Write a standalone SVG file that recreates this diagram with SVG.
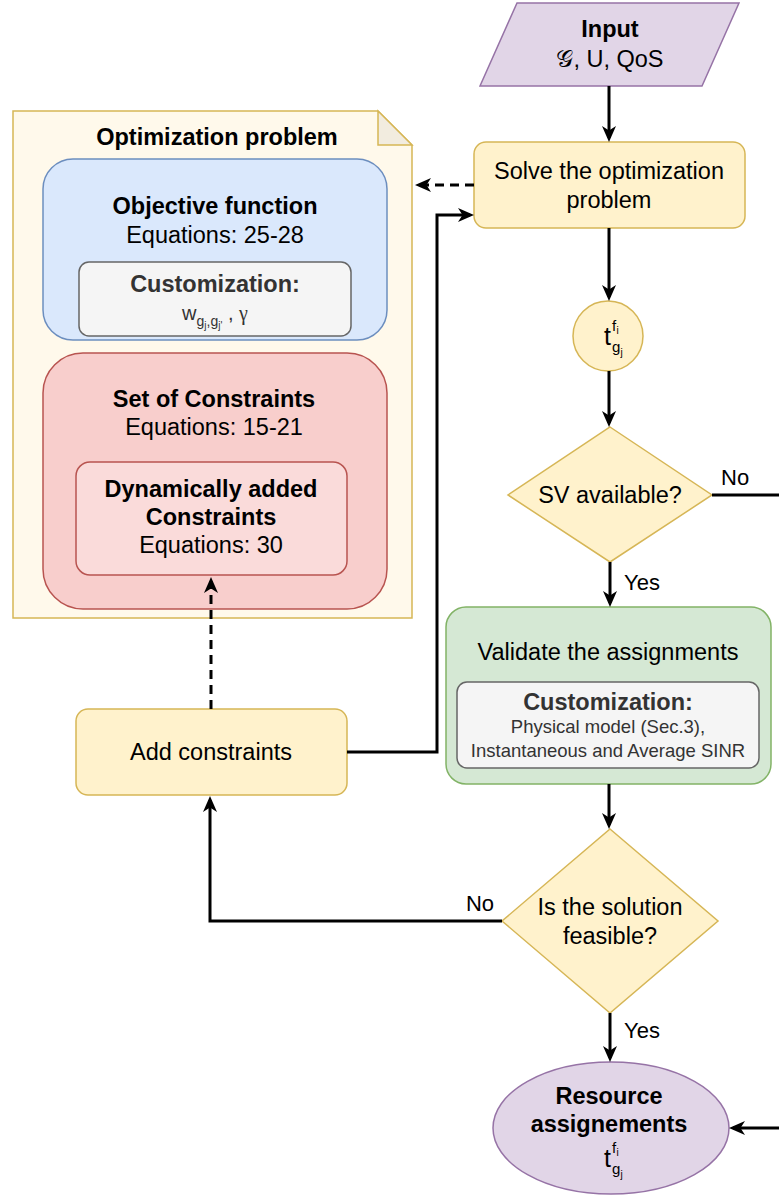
<svg xmlns="http://www.w3.org/2000/svg" width="779" height="1196" viewBox="0 0 779 1196">
<defs>
<marker id="arr" markerUnits="userSpaceOnUse" markerWidth="18" markerHeight="18" viewBox="0 0 18 18" refX="13" refY="9" orient="auto">
<path d="M1,2 L17,9 L1,16 L5.5,9 Z" fill="#000"/>
</marker>
<style>
text{font-family:"Liberation Sans",Arial,sans-serif;fill:#000}
.t{font-size:23.5px;text-anchor:middle}
.b{font-weight:bold}
.s{font-size:18.5px;text-anchor:middle;fill:#333}
.g{fill:#333}
.lbl{font-size:22px}
.c{fill:none;stroke:#000;stroke-width:3}
.d{stroke-dasharray:9 6}
.yel{fill:#fff2cc;stroke:#d6b656;stroke-width:1.5}
.pur{fill:#e1d5e7;stroke:#9673a6;stroke-width:1.5}
.grn{fill:#d5e8d4;stroke:#82b366;stroke-width:1.5}
.gry{fill:#f5f5f5;stroke:#666;stroke-width:1.5}
.blu{fill:#dae8fc;stroke:#6c8ebf;stroke-width:1.5}
.red{fill:#f8cecc;stroke:#b85450;stroke-width:1.5}
.red2{fill:#fadbda;stroke:#b85450;stroke-width:1.5}
</style>
</defs>

<g id="optimization-problem">
<path d="M13,111 L378,111 L412,145 L412,618 L13,618 Z" fill="#fff9eb" stroke="#d6b656" stroke-width="1.5"/>
<path d="M378,111 L378,145 L412,145 Z" fill="#f2ecdf" stroke="#d6b656" stroke-width="1.5"/>
<text class="t b" x="217" y="145">Optimization problem</text>
</g>

<g id="objective-function">
<rect class="blu" x="43" y="159" width="344" height="181" rx="30"/>
<text class="t b" x="215" y="214">Objective function</text>
<text class="t" x="215" y="243">Equations: 25-28</text>
</g>

<g id="customization-objective">
<rect class="gry" x="79" y="262" width="272" height="74" rx="10"/>
<text class="t b g" x="215" y="292">Customization:</text>
<text class="g" x="215" y="320" text-anchor="middle" style="font-size:20px">w<tspan style="font-size:14px" dy="6">g</tspan><tspan style="font-size:10px" dy="3">j</tspan><tspan style="font-size:14px" dy="-3">,g</tspan><tspan style="font-size:10px" dy="3">j'</tspan><tspan dy="-9"> , </tspan><tspan style="font-family:'Liberation Serif',serif">γ</tspan></text>
</g>

<g id="set-of-constraints">
<rect class="red" x="43" y="353" width="344" height="256" rx="40"/>
<text class="t b" x="214" y="407">Set of Constraints</text>
<text class="t" x="214" y="435">Equations: 15-21</text>
</g>

<g id="dynamic-constraints">
<rect class="red2" x="76" y="462" width="271" height="113" rx="14"/>
<text class="t b" x="211" y="497">Dynamically added</text>
<text class="t b" x="211" y="525">Constraints</text>
<text class="t" x="211" y="553">Equations: 30</text>
</g>

<g id="input">
<polygon class="pur" points="517,3 739,3 702,86 480,86"/>
<text class="t b" x="610" y="37">Input</text>
<text class="t" x="610" y="67">𝒢, U, QoS</text>
</g>

<g id="solve">
<rect class="yel" x="474" y="142" width="271" height="86" rx="12"/>
<text class="t" x="609" y="179">Solve the optimization</text>
<text class="t" x="609" y="208">problem</text>
</g>

<g id="t-circle">
<circle class="yel" cx="608" cy="336" r="35"/>
<text x="604" y="345" style="font-size:25px">t</text>
<text x="612" y="331" style="font-size:15px">f</text>
<text x="616.5" y="334" style="font-size:10px">i</text>
<text x="612" y="352" style="font-size:15px">g</text>
<text x="620.5" y="356" style="font-size:10px">j</text>
</g>

<g id="sv-available">
<polygon class="yel" points="610,427 712,495 610,562 508,495"/>
<text class="t" x="610" y="503">SV available?</text>
</g>

<g id="validate">
<rect class="grn" x="446" y="607" width="325" height="177" rx="20"/>
<text class="t" x="608" y="660">Validate the assignments</text>
</g>

<g id="customization-validate">
<rect class="gry" x="457" y="682" width="302" height="86" rx="10"/>
<text class="t b g" x="608" y="710">Customization:</text>
<text class="s" x="608" y="733">Physical model (Sec.3),</text>
<text class="s" x="608" y="757">Instantaneous and Average SINR</text>
</g>

<g id="add-constraints">
<rect class="yel" x="76" y="709" width="271" height="86" rx="12"/>
<text class="t" x="211" y="760">Add constraints</text>
</g>

<g id="feasible">
<polygon class="yel" points="610,829 718,921 610,1013 502,921"/>
<text class="t" x="610" y="915">Is the solution</text>
<text class="t" x="610" y="944">feasible?</text>
</g>

<g id="resource">
<ellipse class="pur" cx="611" cy="1128" rx="118" ry="66"/>
<text class="t b" x="609" y="1104">Resource</text>
<text class="t b" x="609" y="1132">assignements</text>
<text x="604" y="1167" style="font-size:25px">t</text>
<text x="612" y="1153" style="font-size:15px">f</text>
<text x="616.5" y="1156" style="font-size:10px">i</text>
<text x="612" y="1174" style="font-size:15px">g</text>
<text x="620.5" y="1178" style="font-size:10px">j</text>
</g>

<g id="connectors">
<line class="c" x1="609" y1="86" x2="609" y2="138" marker-end="url(#arr)"/>
<line class="c d" x1="474" y1="185" x2="419" y2="185" marker-end="url(#arr)"/>
<line class="c" x1="609" y1="228" x2="609" y2="297" marker-end="url(#arr)"/>
<line class="c" x1="609" y1="371" x2="609" y2="423" marker-end="url(#arr)"/>
<line class="c" x1="712" y1="495" x2="779" y2="495"/>
<line class="c" x1="610" y1="562" x2="610" y2="603" marker-end="url(#arr)"/>
<line class="c" x1="609" y1="784" x2="609" y2="825" marker-end="url(#arr)"/>
<polyline class="c" points="347,752 437,752 437,215 470,215" marker-end="url(#arr)"/>
<line class="c d" x1="211" y1="709" x2="211" y2="581" marker-end="url(#arr)"/>
<polyline class="c" points="502,921 210,921 210,800" marker-end="url(#arr)"/>
<line class="c" x1="610" y1="1013" x2="610" y2="1058" marker-end="url(#arr)"/>
<line class="c" x1="779" y1="1128" x2="733" y2="1128" marker-end="url(#arr)"/>
<text class="lbl" x="721" y="485">No</text>
<text class="lbl" x="624" y="590">Yes</text>
<text class="lbl" x="480" y="911" text-anchor="middle">No</text>
<text class="lbl" x="624" y="1038">Yes</text>
</g>
</svg>
